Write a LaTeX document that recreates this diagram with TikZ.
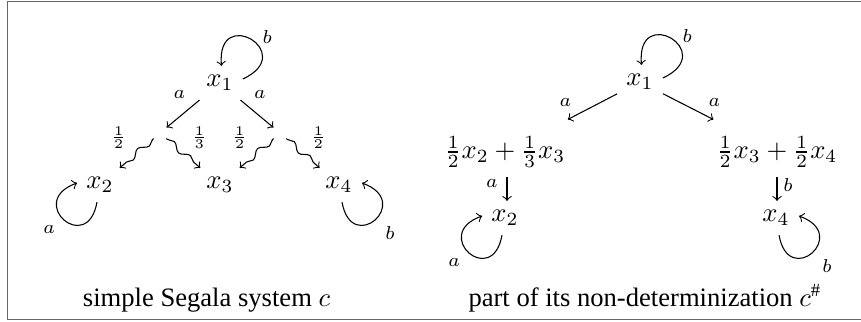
\documentclass[tikz,border=0pt]{standalone}
\usepackage{fontspec}
\setmainfont{Liberation Serif}
\usetikzlibrary{decorations.pathmorphing}
\begin{document}
\begin{tikzpicture}[x=0.376pt,y=0.376pt,
  st/.style={inner sep=3.33pt},
  lbl/.style={font=\scriptsize, inner sep=0pt},
  arr/.style={->},
  wavy/.style={->, decorate, decoration={snake, amplitude=1.1pt, segment length=8pt, post length=2pt, pre length=0.5pt}},
  hub/.style={circle, minimum size=6pt, inner sep=0pt},
  captext/.style={anchor=base, font=\fontsize{10}{12}\selectfont},
  frameline/.style={draw=black!60, line width=0.56pt}]
\useasboundingbox (0,0) rectangle (861,-322);
\draw[frameline] (861,-1.5) -- (7.5,-1.5) -- (7.5,-319.5) -- (861,-319.5);

% ---------------- left panel
\node[st] (L1) at (220,-83) {$x_1$};
\node[st] (L2) at (100,-185) {$x_2$};
\node[st] (L3) at (220,-185) {$x_3$};
\node[st] (L4) at (339,-185) {$x_4$};
\node[hub] (La) at (160,-133) {};
\node[hub] (Lb) at (280,-133) {};

\draw[arr] (L1) -- (La) node[lbl, pos=0.5, shift={(-3.5,19.5)}] {$a$};
\draw[arr] (L1) -- (Lb) node[lbl, pos=0.5, shift={(3,19)}] {$a$};
\draw[wavy] (La) -- (L2) node[lbl, pos=0.5, shift={(-18,15.5)}] {$\frac{1}{2}$};
\draw[wavy] (La) -- (L3) node[lbl, pos=0.5, shift={(16,15.5)}] {$\frac{1}{3}$};
\draw[wavy] (Lb) -- (L3) node[lbl, pos=0.5, shift={(-17,15.5)}] {$\frac{1}{2}$};
\draw[wavy] (Lb) -- (L4) node[lbl, pos=0.5, shift={(15.5,15.5)}] {$\frac{1}{2}$};

\draw[arr] (L1.10) .. controls +(25:62) and +(95:62) .. (L1.85)
  node[lbl, pos=0.5, shift={(16,2)}] {$b$};
\draw[arr] (L2.-100) .. controls +(-100:55) and +(200:55) .. (L2.175)
  node[lbl, pos=0.5, shift={(-15,-10)}] {$a$};
\draw[arr] (L4.-80) .. controls +(-80:55) and +(-20:55) .. (L4.5)
  node[lbl, pos=0.5, shift={(15,-13)}] {$b$};

\node[captext] (C1) at (206.5,-306) {simple Segala system $c$};

% ---------------- right panel
\node[st] (R1) at (640,-82) {$x_1$};
\node[st] (S2) at (505,-152) {$\frac{1}{2}x_2+\frac{1}{3}x_3$};
\node[st] (S3) at (777,-152) {$\frac{1}{2}x_3+\frac{1}{2}x_4$};
\node[st] (R2) at (505,-218) {$x_2$};
\node[st] (R4) at (776,-218) {$x_4$};

\draw[arr, shorten >=6pt] (R1) -- (S2) node[lbl, pos=0.5, shift={(-20,8)}] {$a$};
\draw[arr, shorten >=6pt] (R1) -- (S3) node[lbl, pos=0.5, shift={(19,8)}] {$a$};
\draw[arr] (S2.south -| 507,0) -- (R2.north -| 507,0) node[lbl, pos=0.5, shift={(-15,6)}] {$a$};
\draw[arr] (S3.south -| 777,0) -- (R4.north -| 777,0) node[lbl, pos=0.5, shift={(11,4)}] {$b$};

\draw[arr] (R1.10) .. controls +(25:62) and +(95:62) .. (R1.85)
  node[lbl, pos=0.5, shift={(16,2)}] {$b$};
\draw[arr] (R2.-100) .. controls +(-100:55) and +(200:55) .. (R2.175)
  node[lbl, pos=0.5, shift={(-15,-10)}] {$a$};
\draw[arr] (R4.-80) .. controls +(-80:55) and +(-20:55) .. (R4.5)
  node[lbl, pos=0.5, shift={(15,-13)}] {$b$};

\node[captext] (C2) at (645,-306) {part of its non-determinization $c^{\#}$};
\end{tikzpicture}
\end{document}
